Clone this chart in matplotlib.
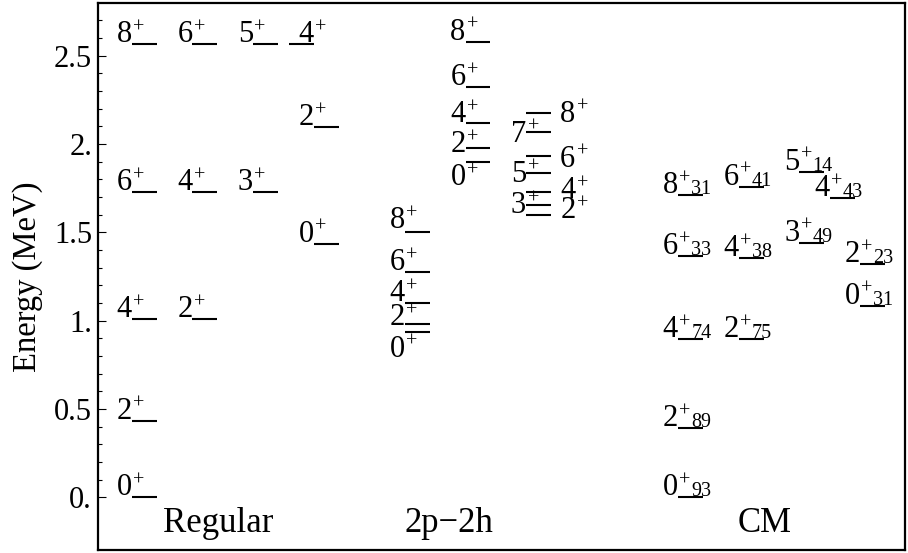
import matplotlib
matplotlib.use("Agg")
import matplotlib.pyplot as plt
import numpy as np
from matplotlib.ticker import FixedLocator, FuncFormatter

plt.rcParams['font.family'] = ['Liberation Serif', 'DejaVu Serif']

# spins and level energies (MeV), one list per band
regular_spins = [[0, 2, 4, 6, 8], [2, 4, 6], [3, 5], [0, 2, 4]]
regular_energy = [[0.0, 0.434, 1.010, 1.727, 2.564],
                  [1.010, 1.727, 2.564],
                  [1.727, 2.564],
                  [1.436, 2.096, 2.564]]

ph_spins = [[0, 2, 4, 6, 8], [0, 2, 4, 6, 8], [2, 3, 4, 5, 6, 7, 8]]
ph_energy = [[0.938, 0.980, 1.098, 1.274, 1.504],
             [1.896, 1.979, 2.121, 2.321, 2.579],
             [1.598, 1.655, 1.730, 1.834, 1.932, 2.070, 2.177]]

cm_spins = [[0, 2, 4, 6, 8], [2, 4, 6], [3, 5], [4], [0, 2]]
cm_energy = [[0.0, 0.391, 0.895, 1.366, 1.711],
             [0.895, 1.353, 1.758],
             [1.441, 1.843],
             [1.693],
             [1.085, 1.321]]
cm_percent = [[93, 89, 74, 33, 31], [75, 38, 41], [49, 14], [43], [31, 23]]

group_names = ['Regular', '2p\u22122h', 'CM']

# layout (column positions of the bands, line length)
regular_cols = [0, 1, 2, 3]
ph_cols = [4.5, 5.5, 6.5]
cm_cols = [9, 10, 11, 11.5, 12]
group_x = [1.42, 5.23, 10.43]
LW = 0.41
FS, FS_SUP, FS_SUB = 22, 14.5, 14.5

# label placement tweaks: (group, band, spin) -> options
tweaks = {
    ('reg', 3, 4): dict(line='left'),
    ('ph', 0, 8): dict(dy=2.7),
    ('ph', 0, 2): dict(dy=-0.5),
    ('ph', 0, 0): dict(dy=-18),
    ('ph', 1, 4): dict(dy=0.5),
    ('ph', 1, 2): dict(dy=-3),
    ('ph', 1, 0): dict(dy=-16.3),
    ('ph', 2, 8): dict(side='right', dy=-6.5),
    ('ph', 2, 6): dict(side='right', dy=-7.7),
    ('ph', 2, 4): dict(side='right', dy=-4.5),
    ('ph', 2, 2): dict(side='right', dy=-2.2),
    ('ph', 2, 7): dict(dy=-7.2),
    ('ph', 2, 5): dict(dy=-6),
    ('ph', 2, 3): dict(dy=-6),
}

fig = plt.figure(figsize=(9.08, 5.53), dpi=100)
ax = fig.add_axes([98 / 908, 3.3 / 553, 807 / 908, 546.7 / 553])


def level(x0, e, spin, side='left', dy=1.5, line='right', sub=None):
    if line == 'right':
        ax.plot([x0, x0 + LW], [e, e], color='k', lw=1.5, solid_capstyle='butt')
    else:
        ax.plot([x0 - LW, x0], [e, e], color='k', lw=1.5, solid_capstyle='butt')
    kw = dict(textcoords='offset points', va='baseline')
    if side == 'left':
        ax.annotate(str(spin), (x0, e), xytext=(0, dy), ha='right', fontsize=FS, **kw)
        ax.annotate('+', (x0, e), xytext=(1.0, dy + 7.0), ha='left', fontsize=FS_SUP, **kw)
        if sub is not None:
            ax.annotate(str(sub), (x0, e), xytext=(9.6, dy - 0.7), ha='left',
                        fontsize=FS_SUB, **kw)
    else:
        ax.annotate(str(spin), (x0 + LW, e), xytext=(6.5, dy), ha='left', fontsize=FS, **kw)
        ax.annotate('+', (x0 + LW, e), xytext=(18.3, dy + 7.0), ha='left',
                    fontsize=FS_SUP, **kw)


for b, (spins, energies) in enumerate(zip(regular_spins, regular_energy)):
    for s, e in zip(spins, energies):
        level(regular_cols[b], e, s, **tweaks.get(('reg', b, s), {}))

for b, (spins, energies) in enumerate(zip(ph_spins, ph_energy)):
    for s, e in zip(spins, energies):
        level(ph_cols[b], e, s, **tweaks.get(('ph', b, s), {}))

for b, (spins, energies) in enumerate(zip(cm_spins, cm_energy)):
    for s, e, p in zip(spins, energies, cm_percent[b]):
        level(cm_cols[b], e, s, sub=p, **tweaks.get(('cm', b, s), {}))

for name, gx in zip(group_names, group_x):
    ax.text(gx, -0.196, name, ha='center', va='baseline', fontsize=25)

ax.set_xlim(-0.555, 12.74)
ax.set_ylim(-0.296, 2.798)
ax.set_xticks([])

major = np.arange(0, 2.51, 0.5)
minor = [t for t in np.round(np.arange(0.1, 2.71, 0.1), 1) if round(t * 2) != t * 2]
ax.yaxis.set_major_locator(FixedLocator(major))
ax.yaxis.set_minor_locator(FixedLocator(minor))
ax.yaxis.set_major_formatter(FuncFormatter(
    lambda v, p: '%d.' % round(v) if abs(v - round(v)) < 1e-6 else '%g' % v))
ax.tick_params(axis='y', which='major', direction='in', length=5.8, width=0.8,
               pad=4.3, labelsize=22)
ax.tick_params(axis='y', which='minor', direction='in', length=3, width=0.8)
for sp in ax.spines.values():
    sp.set_linewidth(1.6)

ax.set_ylabel('Energy (MeV)', fontsize=23.5)
ax.yaxis.label.set_va('center')
ax.yaxis.set_label_coords(-0.0867, 0.5)

fig.savefig('out.png', dpi=100)
